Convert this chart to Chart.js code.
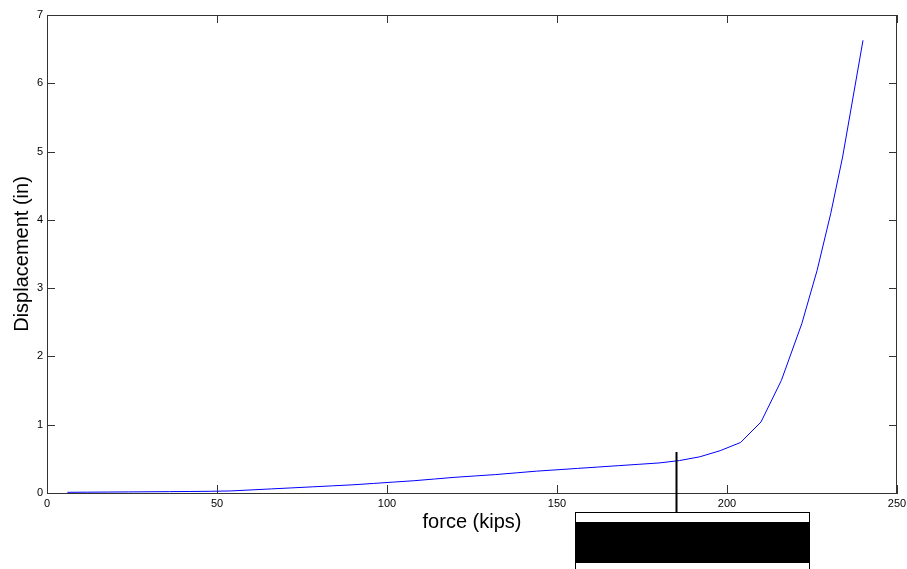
<!DOCTYPE html>
<html>
<head>
<meta charset="utf-8">
<title>force vs displacement</title>
<script src="https://cdn.jsdelivr.net/npm/chart.js@4.4.1/dist/chart.umd.min.js"></script>
<style>
  html, body { margin: 0; padding: 0; background: #fff; }
  #plot { display: block; }
</style>
</head>
<body>
<canvas id="plot" width="907" height="569"></canvas>
<script>
// force (kips) / displacement (in)
var force = [6, 12, 18, 24, 30, 36, 42, 48, 54, 60, 66, 72, 78, 84, 90, 96, 102, 108, 114, 120,
             126, 132, 138, 144, 150, 156, 162, 168, 174, 180, 186, 192, 198, 204, 210, 216,
             222, 226.5, 230.5, 234, 240];
var displacement = [0.01, 0.012, 0.014, 0.016, 0.018, 0.02, 0.022, 0.025, 0.03, 0.045, 0.06, 0.075,
                    0.09, 0.105, 0.12, 0.14, 0.16, 0.18, 0.205, 0.23, 0.25, 0.27, 0.295, 0.32, 0.34,
                    0.36, 0.38, 0.40, 0.42, 0.44, 0.475, 0.53, 0.62, 0.74, 1.04, 1.65, 2.48, 3.26,
                    4.09, 4.92, 6.63];
var xTicks = [0, 50, 100, 150, 200, 250];
var yTicks = [0, 1, 2, 3, 4, 5, 6, 7];
var markerForce = 185;   // where the black callout line points

var points = force.map(function(f, i) { return { x: f, y: displacement[i] }; });

// matlab style frame: box round the axes and ticks pointing inwards
var framePlugin = {
    id: 'frame',
    afterDraw: function(chart) {
        var ctx = chart.ctx;
        var a = chart.chartArea;
        var sx = chart.scales.x, sy = chart.scales.y;
        var len = 8;
        ctx.save();
        ctx.strokeStyle = '#333';
        ctx.lineWidth = 1;
        ctx.strokeRect(a.left + 0.5, a.top + 0.5, a.right - a.left - 1, a.bottom - a.top);
        ctx.beginPath();
        xTicks.forEach(function(t) {
            var px = Math.round(sx.getPixelForValue(t)) + 0.5;
            ctx.moveTo(px, a.bottom); ctx.lineTo(px, a.bottom - len);
            ctx.moveTo(px, a.top); ctx.lineTo(px, a.top + len);
        });
        yTicks.forEach(function(t) {
            var py = Math.round(sy.getPixelForValue(t)) + 0.5;
            ctx.moveTo(a.left, py); ctx.lineTo(a.left + len, py);
            ctx.moveTo(a.right, py); ctx.lineTo(a.right - len, py);
        });
        ctx.stroke();

        // callout: vertical line down to a box under the axis
        var mx = Math.round(sx.getPixelForValue(markerForce)) + 0.5;
        var boxTop = a.bottom + 19;
        ctx.strokeStyle = '#000';
        ctx.lineWidth = 2;
        ctx.beginPath();
        ctx.moveTo(mx, a.bottom - 41);
        ctx.lineTo(mx, boxTop);
        ctx.stroke();
        ctx.fillStyle = '#fff';
        ctx.lineWidth = 1;
        ctx.fillRect(mx - 101, boxTop, 234, 80);
        ctx.strokeRect(mx - 101, boxTop + 0.5, 234, 80);
        ctx.fillStyle = '#000';
        ctx.fillRect(mx - 101, boxTop + 10, 234, 41);
        ctx.restore();
    }
};

var ctx = document.getElementById('plot').getContext('2d');
var chart = new Chart(ctx, {
    type: 'line',
    data: {
        datasets: [{
            data: points,
            borderColor: '#0000ff',
            borderWidth: 1,
            pointRadius: 0,
            fill: false,
            tension: 0
        }]
    },
    options: {
        responsive: false,
        animation: false,
        events: [],
        layout: { padding: { top: 15, right: 10, left: 0, bottom: 0 } },
        plugins: {
            legend: { display: false },
            tooltip: { enabled: false }
        },
        scales: {
            x: {
                type: 'linear',
                min: 0,
                max: 250,
                afterBuildTicks: function(scale) {
                    scale.ticks = xTicks.map(function(v) { return { value: v }; });
                },
                afterFit: function(scale) {
                    scale.height = 76;
                    scale.paddingLeft = 0;
                    scale.paddingRight = 0;
                },
                grid: { display: false, drawTicks: false },
                border: { display: true, color: '#333', width: 1 },
                ticks: {
                    padding: 4,
                    color: '#000',
                    font: { family: 'Liberation Sans, Arial, sans-serif', size: 11 }
                },
                title: {
                    display: true,
                    text: 'force (kips)',
                    color: '#000',
                    padding: { top: 0, bottom: 35 },
                    font: { family: 'Liberation Sans, Arial, sans-serif', size: 20 }
                }
            },
            y: {
                type: 'linear',
                min: 0,
                max: 7,
                afterBuildTicks: function(scale) {
                    scale.ticks = yTicks.map(function(v) { return { value: v }; });
                },
                afterFit: function(scale) {
                    scale.width = 47;
                    scale.paddingTop = 0;
                    scale.paddingBottom = 0;
                },
                grid: { display: false, drawTicks: false },
                border: { display: true, color: '#333', width: 1 },
                ticks: {
                    padding: 4,
                    color: '#000',
                    font: { family: 'Liberation Sans, Arial, sans-serif', size: 11 }
                },
                title: {
                    display: true,
                    text: 'Displacement (in)',
                    color: '#000',
                    padding: { top: 10.5, bottom: 0 },
                    font: { family: 'Liberation Sans, Arial, sans-serif', size: 20 }
                }
            }
        }
    },
    plugins: [framePlugin]
});
</script>
</body>
</html>
